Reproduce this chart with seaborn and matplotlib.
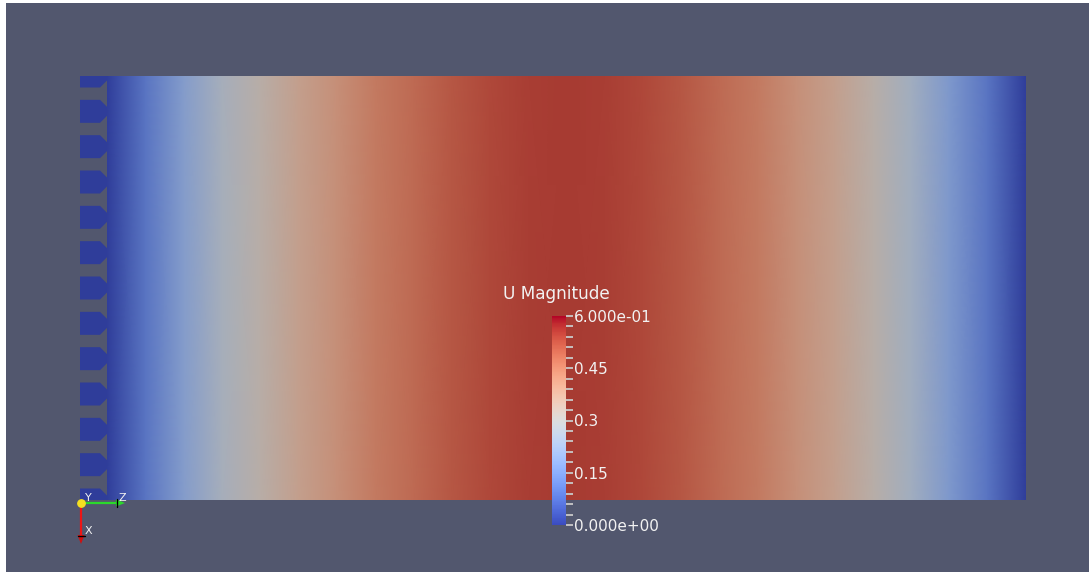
import numpy as np
import pandas as pd
import matplotlib
matplotlib.use("Agg")
import matplotlib.pyplot as plt
from matplotlib.colors import ListedColormap, Normalize
from matplotlib.cm import ScalarMappable
from matplotlib.patches import Polygon, Rectangle
from matplotlib.ticker import MultipleLocator
import seaborn as sns

# U magnitude sampled across the channel, from the left wall to the right wall
u_profile = [0.00, 0.10, 0.19, 0.27, 0.32, 0.37, 0.41, 0.45, 0.48, 0.51, 0.53, 0.545, 0.55,
             0.545, 0.53, 0.51, 0.48, 0.45, 0.41, 0.37, 0.32, 0.26, 0.18, 0.10, 0.00]
# velocity glyphs on the left boundary
glyph_u = [0.0] * 13

u_range = [0.0, 0.6]
cbar_ticks = [0.0, 0.15, 0.3, 0.45, 0.6]
cbar_labels = ["0.000e+00", "0.15", "0.3", "0.45", "6.000e-01"]
cbar_title = "U Magnitude"

sns.set_theme(style="white")
plt.rcParams["font.family"] = ["DejaVu Sans"]

W, H = 1089, 572
BG = "#52576E"
TXT = "#f2f2f2"

fig = plt.figure(figsize=(W / 100, H / 100), dpi=100, facecolor="white")


def px_axes(x0, y0, x1, y1, **kw):
    """Axes placed by a pixel box measured from the top-left corner."""
    return fig.add_axes([x0 / W, 1 - y1 / H, (x1 - x0) / W, (y1 - y0) / H], **kw)


def bare(ax):
    ax.set_xticks([])
    ax.set_yticks([])
    for s in ax.spines.values():
        s.set_visible(False)


# shaded (lit) version of the cool-to-warm map for the surface
base = plt.get_cmap("coolwarm")(np.linspace(0, 1, 256))
lit = base.copy()
lit[:, :3] = base[:, :3] * 0.80
lit_cmap = ListedColormap(lit)
norm = Normalize(*u_range)

# render view background
bg = px_axes(6, 3, W, H, zorder=0)
bg.set_facecolor(BG)
bg.set_xlim(6, W)
bg.set_ylim(H, 3)
bare(bg)

# arrow glyphs along the inlet wall
top, bot = 76, 500
clip = Rectangle((70, top), 50, bot - top, transform=bg.transData)
centers = np.linspace(top, bot, len(glyph_u))
for cy, gu in zip(centers, glyph_u):
    h = 11.5
    pts = [(80, cy - h), (100, cy - h), (107.5, cy - 4), (107.5, cy + 4),
           (100, cy + h), (80, cy + h)]
    p = Polygon(pts, closed=True, facecolor=lit_cmap(norm(gu)), edgecolor="none")
    bg.add_patch(p)
    p.set_clip_path(clip)

# velocity field on the channel slice
field_ax = px_axes(107, top, 1026, bot, zorder=1)
field = pd.DataFrame([u_profile, u_profile])
sns.heatmap(field, ax=field_ax, cmap=lit_cmap, vmin=u_range[0], vmax=u_range[1],
            cbar=False, xticklabels=False, yticklabels=False, shading="gouraud")
field_ax.set_xlim(0, len(u_profile) - 1)
field_ax.set_ylim(1, 0)
bare(field_ax)

# scalar bar
cax = px_axes(552, 316, 566, 525, zorder=3)
cb = fig.colorbar(ScalarMappable(norm=norm, cmap="coolwarm"), cax=cax)
cb.outline.set_visible(False)
cb.set_ticks(cbar_ticks)
cb.set_ticklabels(cbar_labels)
cax.yaxis.set_minor_locator(MultipleLocator(0.03))
cax.tick_params(axis="y", which="both", direction="out", length=5, width=1.3,
                color="#c9c9c9", labelcolor=TXT, labelsize=11, pad=1)
fig.text(503 / W, 1 - 294 / H, cbar_title, color=TXT, fontsize=12.2,
         ha="left", va="center", zorder=4)

# orientation triad
ov = px_axes(0, 0, W, H, zorder=5)
ov.set_xlim(0, W)
ov.set_ylim(H, 0)
ov.axis("off")
ov.plot([81, 117], [503, 503], color="#2bd92b", lw=1.6, solid_capstyle="butt")
ov.add_patch(Polygon([(116, 499.5), (125, 503), (116, 506.5)], closed=True,
                     facecolor="#2bd92b", edgecolor="none"))
ov.plot([117, 117], [499, 507], color="black", lw=1.0)
ov.plot([81, 81], [503, 536], color="#ee1515", lw=1.6, solid_capstyle="butt")
ov.add_patch(Polygon([(77.5, 535), (81, 544), (84.5, 535)], closed=True,
                     facecolor="#d01010", edgecolor="none"))
ov.plot([77.5, 84.5], [535.5, 535.5], color="black", lw=1.0)
ov.scatter([81], [503], s=28, color="#f5e020", zorder=6)
for label, (tx, ty) in {"Y": (88, 498), "Z": (122, 498), "X": (88, 531)}.items():
    ov.text(tx, ty, label, color=TXT, fontsize=8, ha="center", va="center")

fig.savefig("out.png", dpi=100, facecolor=fig.get_facecolor())
